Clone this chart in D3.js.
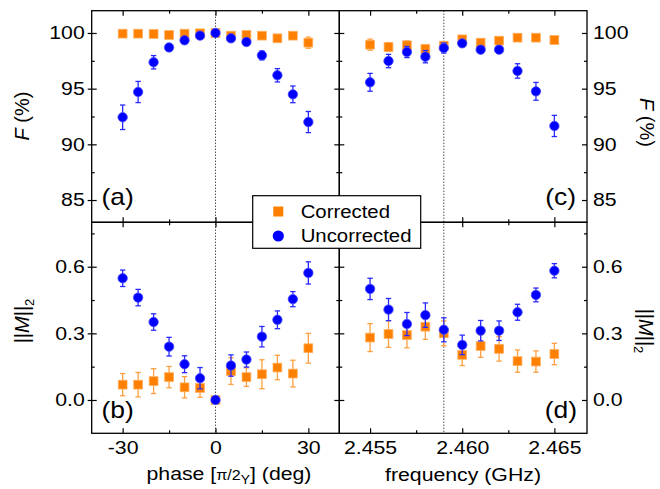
<!DOCTYPE html>
<html><head><meta charset="utf-8">
<script src="https://cdn.jsdelivr.net/npm/d3@7"></script>
<style>body{margin:0;background:#fff} text{font-family:"Liberation Sans",Arial,Helvetica,sans-serif;fill:#000}</style>
</head><body><svg id="c" width="660" height="489"></svg>
<script>
// ---------- data ----------
const phase = [-30,-25,-20,-15,-10,-5,0,5,10,15,20,25,30];
const freq = [2.455,2.456,2.457,2.458,2.459,2.460,2.461,2.462,2.463,2.464,2.465];

const phaseFCorr    = [99.94,99.94,99.91,99.82,99.94,99.97,100,99.76,99.82,99.76,99.52,99.76,99.13];
const phaseFCorrErr = [0.15,0.15,0.15,0.15,0.15,0.15,0,0.2,0.15,0.15,0.15,0.15,0.5];
const phaseFUnc     = [92.43,94.7,97.37,98.7,99.34,99.76,100,99.52,99.19,97.99,96.2,94.49,92.0];
const phaseFUncErr  = [1.1,0.95,0.6,0.3,0.2,0.25,0,0.2,0.2,0.4,0.6,0.75,0.95];
const phaseMCorr    = [0.069,0.069,0.085,0.103,0.057,0.054,0,0.13,0.103,0.116,0.146,0.119,0.233];
const phaseMCorrErr = [0.05,0.055,0.056,0.048,0.048,0.042,0,0.06,0.042,0.065,0.055,0.06,0.067];
const phaseMUnc     = [0.548,0.461,0.351,0.24,0.161,0.098,0,0.155,0.182,0.285,0.361,0.454,0.572];
const phaseMUncErr  = [0.037,0.037,0.037,0.042,0.038,0.048,0,0.048,0.034,0.046,0.04,0.034,0.05];

const freqFCorr    = [98.95,98.74,98.89,98.56,98.86,99.43,99.13,99.31,99.58,99.58,99.37];
const freqFCorrErr = [0.5,0.4,0.4,0.4,0.3,0.2,0.3,0.2,0.15,0.15,0.2];
const freqFUnc     = [95.57,97.48,98.29,97.87,98.65,99.07,98.5,98.5,96.59,94.76,91.65];
const freqFUncErr  = [0.8,0.6,0.5,0.55,0.45,0.2,0.3,0.3,0.65,0.8,0.95];
const freqMCorr    = [0.281,0.297,0.292,0.33,0.3,0.203,0.243,0.23,0.175,0.173,0.207];
const freqMCorrErr = [0.063,0.06,0.057,0.057,0.056,0.048,0.051,0.055,0.05,0.048,0.048];
const freqMUnc     = [0.5,0.407,0.342,0.382,0.316,0.248,0.312,0.312,0.395,0.473,0.582];
const freqMUncErr  = [0.048,0.05,0.052,0.055,0.054,0.044,0.046,0.044,0.036,0.031,0.032];

const phaseTicks = [-30,0,30], phaseMinor = [-15,15];
const freqTicks = [2.455,2.460,2.465], freqMinor = [2.4575,2.4625];
const fTicks = [85,90,95,100], fMinor = [87.5,92.5,97.5];
const mTicks = [0.0,0.3,0.6], mMinor = [0.15,0.45,0.75];
const seriesNames = ["Corrected","Uncorrected"];
const phaseCenter = 0, freqCenter = 2.459;

// ---------- layout ----------
const X0=91.7, XM=339.3, X1=587, Y0=10.7, YM=222.3, Y1=433.3;
const SX = 1.15;
const ORANGE = "#ff8000", BLUE = "#0000ff";

const svg = d3.select("#c");
const xPhase = d3.scaleLinear([-40,40],[X0,XM]);
const xFreq  = d3.scaleLinear([2.45333,2.46677],[XM,X1]);
const yF = d3.scaleLinear([83,102],[YM,Y0]);
const yM = d3.scaleLinear([-0.15,0.8],[Y1,YM]);

function stretch(sel){
  sel.each(function(){
    const x = +this.getAttribute("x") || 0;
    this.setAttribute("x", x/SX);
    this.setAttribute("transform", `scale(${SX},1)`);
  });
}

function panel(x, y, o){
  const g = svg.append("g");
  const [xa,xb] = x.range(), [yb,ya] = y.range();
  const fontTick = "18.5px";
  function ax(axis, tx, ty, labels){
    const a = g.append("g").attr("transform",`translate(${tx},${ty})`).call(axis);
    a.select(".domain").remove();
    a.selectAll("line").attr("stroke","#000").attr("stroke-width",1.2);
    a.selectAll("text").attr("font-size",fontTick).attr("fill","#000").style("font-family",'"Liberation Sans",Arial,sans-serif');
    if(labels) stretch(a.selectAll("text")); else a.selectAll("text").remove();
    return a;
  }
  // bottom
  ax(d3.axisBottom(x).tickValues(o.xTicks).tickSize(-5).tickPadding(8).tickFormat(o.xFmt), 0, yb, o.xLabels);
  ax(d3.axisBottom(x).tickValues(o.xMinor).tickSize(-3).tickFormat(""), 0, yb, false);
  // top
  ax(d3.axisTop(x).tickValues(o.xTicks).tickSize(-5).tickFormat(""), 0, ya, false);
  ax(d3.axisTop(x).tickValues(o.xMinor).tickSize(-3).tickFormat(""), 0, ya, false);
  // left
  ax(d3.axisLeft(y).tickValues(o.yTicks).tickSize(-5).tickPadding(7).tickFormat(o.yFmt), xa, 0, o.side==="left");
  ax(d3.axisLeft(y).tickValues(o.yMinor).tickSize(-3).tickFormat(""), xa, 0, false);
  if(o.side==="left") ax(d3.axisLeft(y).tickValues(o.yTicks).tickSize(4).tickFormat(""), xa, 0, false);
  // right
  ax(d3.axisRight(y).tickValues(o.yTicks).tickSize(-5).tickPadding(6).tickFormat(o.yFmt), xb, 0, o.side==="right");
  ax(d3.axisRight(y).tickValues(o.yMinor).tickSize(-3).tickFormat(""), xb, 0, false);
  g.append("rect").attr("x",xa).attr("y",ya).attr("width",xb-xa).attr("height",yb-ya)
    .attr("fill","none").attr("stroke","#000").attr("stroke-width",1.3);
  return g;
}

function series(x, y, xs, vals, errs, kind){
  const g = svg.append("g");
  const col = kind==="sq" ? ORANGE : BLUE;
  const ecol = kind==="sq" ? "#ffa040" : "#2a2aff";
  const eb = g.selectAll("g.eb").data(xs.map((d,i)=>({x:d,v:vals[i],e:errs[i]}))).join("g")
    .attr("stroke",ecol).attr("stroke-width",1.3).attr("fill","none");
  eb.filter(d=>d.e>0).append("line").attr("x1",d=>x(d.x)).attr("x2",d=>x(d.x)).attr("y1",d=>y(d.v-d.e)).attr("y2",d=>y(d.v+d.e));
  eb.filter(d=>d.e>0).append("line").attr("x1",d=>x(d.x)-2.7).attr("x2",d=>x(d.x)+2.7).attr("y1",d=>y(d.v-d.e)).attr("y2",d=>y(d.v-d.e));
  eb.filter(d=>d.e>0).append("line").attr("x1",d=>x(d.x)-2.7).attr("x2",d=>x(d.x)+2.7).attr("y1",d=>y(d.v+d.e)).attr("y2",d=>y(d.v+d.e));
  const pts = xs.map((d,i)=>({x:d,v:vals[i]}));
  if(kind==="sq"){
    g.selectAll("rect").data(pts).join("rect")
      .attr("x",d=>x(d.x)-4.4).attr("y",d=>y(d.v)-4.4).attr("width",8.8).attr("height",8.8)
      .attr("fill",col).attr("stroke","#ffb060").attr("stroke-width",0.8);
  } else {
    g.selectAll("circle").data(pts).join("circle")
      .attr("cx",d=>x(d.x)).attr("cy",d=>y(d.v)).attr("r",4.7)
      .attr("fill",col).attr("stroke","#4a4aff").attr("stroke-width",0.8);
  }
}

const f1 = d3.format(".1f"), f3 = d3.format(".3f"), f0 = d => String(d);
panel(xPhase, yF, {xTicks:phaseTicks,xMinor:phaseMinor,yTicks:fTicks,yMinor:fMinor,xFmt:f0,yFmt:f0,xLabels:false,side:"left"});
panel(xPhase, yM, {xTicks:phaseTicks,xMinor:phaseMinor,yTicks:mTicks,yMinor:mMinor,xFmt:f0,yFmt:f1,xLabels:true,side:"left"});
panel(xFreq, yF, {xTicks:freqTicks,xMinor:freqMinor,yTicks:fTicks,yMinor:fMinor,xFmt:f3,yFmt:f0,xLabels:false,side:"right"});
panel(xFreq, yM, {xTicks:freqTicks,xMinor:freqMinor,yTicks:mTicks,yMinor:mMinor,xFmt:f3,yFmt:f1,xLabels:true,side:"right"});

// dotted center lines
svg.append("line").attr("x1",xPhase(phaseCenter)).attr("x2",xPhase(phaseCenter)).attr("y1",Y0).attr("y2",Y1)
  .attr("stroke","#000").attr("stroke-width",1).attr("stroke-dasharray","1,2");
svg.append("line").attr("x1",xFreq(freqCenter)).attr("x2",xFreq(freqCenter)).attr("y1",Y0).attr("y2",Y1)
  .attr("stroke","#000").attr("stroke-width",1).attr("stroke-dasharray","1,2");

// data
series(xPhase,yF,phase,phaseFCorr,phaseFCorrErr,"sq");
series(xPhase,yF,phase,phaseFUnc,phaseFUncErr,"ci");
series(xPhase,yM,phase,phaseMCorr,phaseMCorrErr,"sq");
series(xPhase,yM,phase,phaseMUnc,phaseMUncErr,"ci");
series(xFreq,yF,freq,freqFCorr,freqFCorrErr,"sq");
series(xFreq,yF,freq,freqFUnc,freqFUncErr,"ci");
series(xFreq,yM,freq,freqMCorr,freqMCorrErr,"sq");
series(xFreq,yM,freq,freqMUnc,freqMUncErr,"ci");

// panel labels
function plabel(txt,x,y,anchor){
  const t = svg.append("text").attr("x",x).attr("y",y).attr("font-size","23px").attr("text-anchor",anchor).text(txt);
  stretch(t);
}
plabel("(a)",101.5,205,"start");
plabel("(b)",101.5,418.5,"start");
plabel("(c)",576,205,"end");
plabel("(d)",577,418.5,"end");

// axis titles
function xtitle(x,y){
  return svg.append("text").attr("x",x).attr("y",y).attr("font-size","18.5px").attr("text-anchor","middle");
}
{
  const t = xtitle(229,480);
  t.append("tspan").text("phase [");
  t.append("tspan").attr("font-size","14px").text("π/2");
  t.append("tspan").attr("font-size","12px").attr("dy",4).text("Y");
  t.append("tspan").attr("dy",-4).text("] (deg)");
  stretch(t);
  const t2 = xtitle(463,481).text("frequency (GHz)");
  stretch(t2);
}
function ytitle(kind, x, y, rot){
  const t = svg.append("text").attr("transform",`translate(${x},${y}) rotate(${rot})`)
    .attr("font-size","20px").attr("text-anchor","middle");
  if(kind==="F"){
    t.append("tspan").attr("font-style","italic").text("F");
    t.append("tspan").text(" (%)");
  } else {
    t.append("tspan").text("||");
    t.append("tspan").attr("font-style","italic").text("M");
    t.append("tspan").text("||");
    t.append("tspan").attr("font-size","13px").attr("dy",5).text("2");
  }
}
ytitle("F",28.5,116,-90);
ytitle("M",28.5,321,-90);
ytitle("F",640,122.5,90);
ytitle("M",639,331,90);

// legend
{
  const g = svg.append("g");
  g.append("rect").attr("x",252.7).attr("y",195.7).attr("width",168).attr("height",52.6)
    .attr("fill","#fff").attr("stroke","#000").attr("stroke-width",1.2);
  g.append("rect").attr("x",278.3-5).attr("y",211.5-5).attr("width",10).attr("height",10).attr("fill",ORANGE);
  g.append("circle").attr("cx",278.3).attr("cy",236).attr("r",5.6).attr("fill",BLUE);
  const t1 = g.append("text").attr("x",300.7).attr("y",218).attr("font-size","18.5px").text(seriesNames[0]);
  const t2 = g.append("text").attr("x",300.7).attr("y",242.5).attr("font-size","18.5px").text(seriesNames[1]);
  [t1,t2].forEach(t=>{ const x=+t.attr("x"); t.attr("x",x/1.1).attr("transform","scale(1.1,1)"); });
}
</script>
</body></html>
